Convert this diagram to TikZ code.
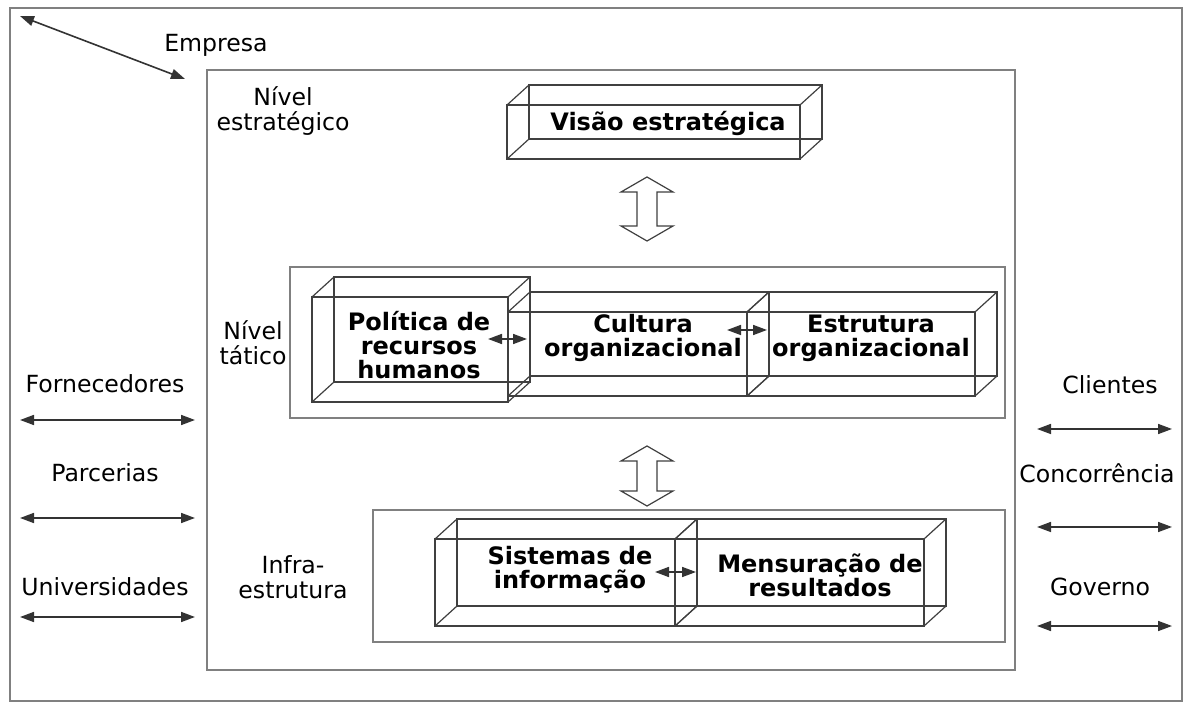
\documentclass[tikz,border=0pt]{standalone}
\usepackage{fontspec}
\setmainfont{DejaVu Sans}
\usetikzlibrary{arrows.meta,calc}

\tikzset{
  quadro/.style={draw=black!50, line width=0.8pt},
  aresta/.style={draw=black!75, line width=0.6pt},
  seta/.style={{Triangle[length=7pt,width=5pt]}-{Triangle[length=7pt,width=5pt]}, line width=0.8pt, draw=black!80, fill=black},
  texto/.style={font=\fontsize{11.8}{12.5}\selectfont, align=center, inner sep=0pt},
  rotulo/.style={font=\bfseries\fontsize{12}{12}\selectfont, align=center, inner sep=0pt},
}

% 3D box: name, front left, front top, front right, front bottom
\newcommand{\caixa}[5]{%
  \coordinate (#1a) at (#2,#3); \coordinate (#1b) at (#4,#5);
  \draw[aresta] (#1a) rectangle (#1b);
  \draw[aresta] ([shift={(22,-20)}]#1a) rectangle ([shift={(22,-20)}]#1b);
  \draw[aresta] (#1a) -- ++(22,-20) (#1b) -- ++(22,-20) (#1a |- #1b) -- ++(22,-20) (#1b |- #1a) -- ++(22,-20);}

\begin{document}
\begin{tikzpicture}[x=0.5pt,y=-0.5pt]
\useasboundingbox[fill=white] (0,0) rectangle (1187,704);
\draw[quadro] (10,8) rectangle (1182,701); % edit here for the frames
\draw[quadro] (207,70) rectangle (1015,670);
\draw[quadro] (290,267) rectangle (1005,418);
\draw[quadro] (373,510) rectangle (1005,642);

\coordinate (canto) at (20,16);
\coordinate (emp) at (185,79);
\draw[seta] (canto) -- (emp);
\node[texto] (empresa) at (216,45) {Empresa};

\node[texto] (estrat) at (283,111) {Nível\\estratégico};
\node[texto] (tatico) at (253,343) {Nível\\tático};
\node[texto] (infra) at (293,577) {Infra-\\estrutura};

% edit here for the boxes
\caixa{vis}{507}{105}{800}{159}
\node[rotulo] (visao) at (668,123) {Visão estratégica};
\caixa{pol}{312}{297}{508}{402}
\node[rotulo] (politica) at (419,345) {Política de\\recursos\\humanos};
\caixa{cul}{508}{312}{747}{396}
\node[rotulo] (cultura) at (643,338) {Cultura\\organizacional};
\caixa{est}{747}{312}{975}{396}
\node[rotulo] (estrutura) at (871,338) {Estrutura\\organizacional};
\caixa{sis}{435}{539}{675}{626}
\node[rotulo] (sistemas) at (570,570) {Sistemas de\\informação};
\caixa{men}{675}{539}{924}{626}
\node[rotulo] (mensura) at (820,575) {Mensuração de\\resultados};

\foreach \a/\b/\y in {488/527/339, 727/767/330, 655/696/572}{
\coordinate (p\a) at (\a,\y);
\coordinate (q\a) at (\b,\y);
\draw[seta] (p\a) -- (q\a);}

% hollow arrows between levels
\foreach \yt/\yb in {177/241, 446/506}
\draw[aresta,fill=white] (647,\yt) -- (673,\yt+15) -- (657,\yt+15) -- (657,\yb-15) -- (673,\yb-15)
 -- (647,\yb) -- (621,\yb-15) -- (637,\yb-15) -- (637,\yt+15) -- (621,\yt+15) -- cycle;

% edit here for the outside
\foreach \t/\x/\y/\ya/\i in {Fornecedores/105/384/420/1, Parcerias/105/473/518/2, Universidades/105/587/617/3}{
\node[texto] (l\i) at (\x,\y) {\t};
\coordinate (e\i) at (20,\ya);
\coordinate (d\i) at (195,\ya);
\draw[seta] (e\i) -- (d\i);}
\foreach \t/\x/\y/\ya/\i in {Clientes/1110/385/429/1, Concorrência/1097/473/527/2, Governo/1100/587/626/3}{
\node[texto] (r\i) at (\x,\y) {\t};
\coordinate (f\i) at (1037,\ya);
\coordinate (g\i) at (1172,\ya);
\draw[seta] (f\i) -- (g\i);}
\end{tikzpicture}
\end{document}
